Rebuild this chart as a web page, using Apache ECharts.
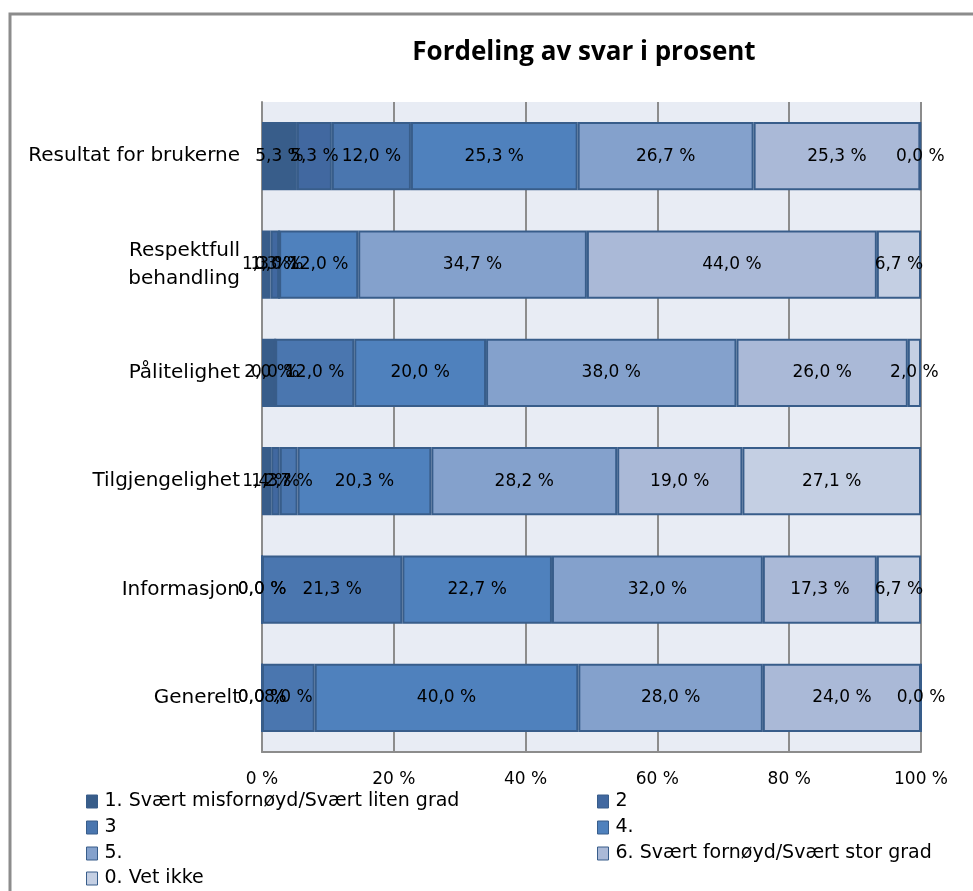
<!DOCTYPE html>
<html>
<head>
<meta charset="utf-8">
<script src="https://cdn.jsdelivr.net/npm/echarts@6/dist/echarts.min.js"></script>
<style>
  html, body { margin: 0; padding: 0; background: #ffffff; }
  #chart { width: 973px; height: 891px; }
</style>
</head>
<body>
<div id="chart"></div>
<script>
// Survey dimensions (top to bottom)
const categories = [
  'Resultat for brukerne',
  'Respektfull\nbehandling',
  'Pålitelighet',
  'Tilgjengelighet',
  'Informasjon',
  'Generelt'
];

// Answer shares in percent, one array per answer option
const svar1 = [5.3, 1.3, 2.0, 1.4, 0.0, 0.0];
const svar2 = [5.3, 1.3, 0.0, 1.3, 0.0, 0.0];
const svar3 = [12.0, 0.0, 12.0, 2.7, 21.3, 8.0];
const svar4 = [25.3, 12.0, 20.0, 20.3, 22.7, 40.0];
const svar5 = [26.7, 34.7, 38.0, 28.2, 32.0, 28.0];
const svar6 = [25.3, 44.0, 26.0, 19.0, 17.3, 24.0];
const svar0 = [0.0, 6.7, 2.0, 27.1, 6.7, 0.0];

const seriesNames = [
  '1. Svært misfornøyd/Svært liten grad',
  '2',
  '3',
  '4.',
  '5.',
  '6. Svært fornøyd/Svært stor grad',
  '0. Vet ikke'
];
const seriesData = [svar1, svar2, svar3, svar4, svar5, svar6, svar0];
const colors = ['#385d8a', '#4168a0', '#4a76af', '#4f81bd', '#84a1cc', '#aab9d7', '#c4cfe3'];

const fontFam = '"DejaVu Sans", sans-serif';

const fmt = v => v.toFixed(1).replace('.', ',') + ' %';

const series = seriesData.map((d, i) => ({
  name: seriesNames[i],
  type: 'bar',
  stack: 'total',
  data: d,
  barWidth: '63%',
  itemStyle: { color: colors[i], borderColor: '#385d8a', borderWidth: 2 },
  label: {
    show: true,
    position: 'inside',
    color: '#000',
    fontSize: 17,
    fontFamily: fontFam,
    formatter: p => fmt(p.value)
  },
  emphasis: { disabled: true }
}));

// Legend laid out as two columns, filled row by row
const legendSlots = [
  [86, 792], [597, 792],
  [86, 818], [597, 818],
  [86, 844], [597, 844],
  [86, 869]
];
const legends = seriesNames.map((name, i) => ({
  data: [name],
  left: legendSlots[i][0],
  top: legendSlots[i][1],
  itemGap: 0,
  itemWidth: 11,
  itemHeight: 13,
  icon: 'rect',
  padding: 0,
  textStyle: { fontFamily: fontFam, fontSize: 19, color: '#000', padding: [0, 0, 0, 2] },
  itemStyle: { borderColor: '#385d8a', borderWidth: 1 }
}));

const chart = echarts.init(document.getElementById('chart'), null, { renderer: 'canvas' });
chart.setOption({
  animation: false,
  backgroundColor: '#ffffff',
  color: colors,
  title: {
    text: 'Fordeling av svar i prosent',
    left: 579,
    top: 35,
    textAlign: 'center',
    textStyle: { fontFamily: '"Open Sans", sans-serif', fontSize: 26, fontWeight: 'bold', color: '#000' }
  },
  graphic: [{
    type: 'rect',
    shape: { x: 10, y: 14, width: 1000, height: 1000 },
    style: { fill: 'none', stroke: '#8c8c8c', lineWidth: 3 },
    silent: true,
    z: -10
  }],
  legend: legends,
  grid: {
    left: 262,
    right: 52,
    top: 102,
    height: 650,
    show: true,
    backgroundColor: '#e8ecf4',
    borderWidth: 0
  },
  xAxis: {
    type: 'value',
    min: 0,
    max: 100,
    interval: 20,
    axisLine: { show: true, lineStyle: { color: '#8c8c8c', width: 2 } },
    axisTick: { show: false },
    splitLine: { show: true, lineStyle: { color: '#8c8c8c', width: 2 } },
    axisLabel: {
      color: '#000',
      fontFamily: fontFam,
      fontSize: 17,
      margin: 19,
      formatter: v => v + ' %'
    }
  },
  yAxis: {
    type: 'category',
    data: categories,
    inverse: true,
    axisLine: { show: true, lineStyle: { color: '#8c8c8c', width: 2 } },
    axisTick: { show: false },
    axisLabel: {
      color: '#000',
      fontFamily: fontFam,
      fontSize: 20,
      margin: 22,
      lineHeight: 28,
      align: 'right'
    }
  },
  series: series
});
</script>
</body>
</html>
